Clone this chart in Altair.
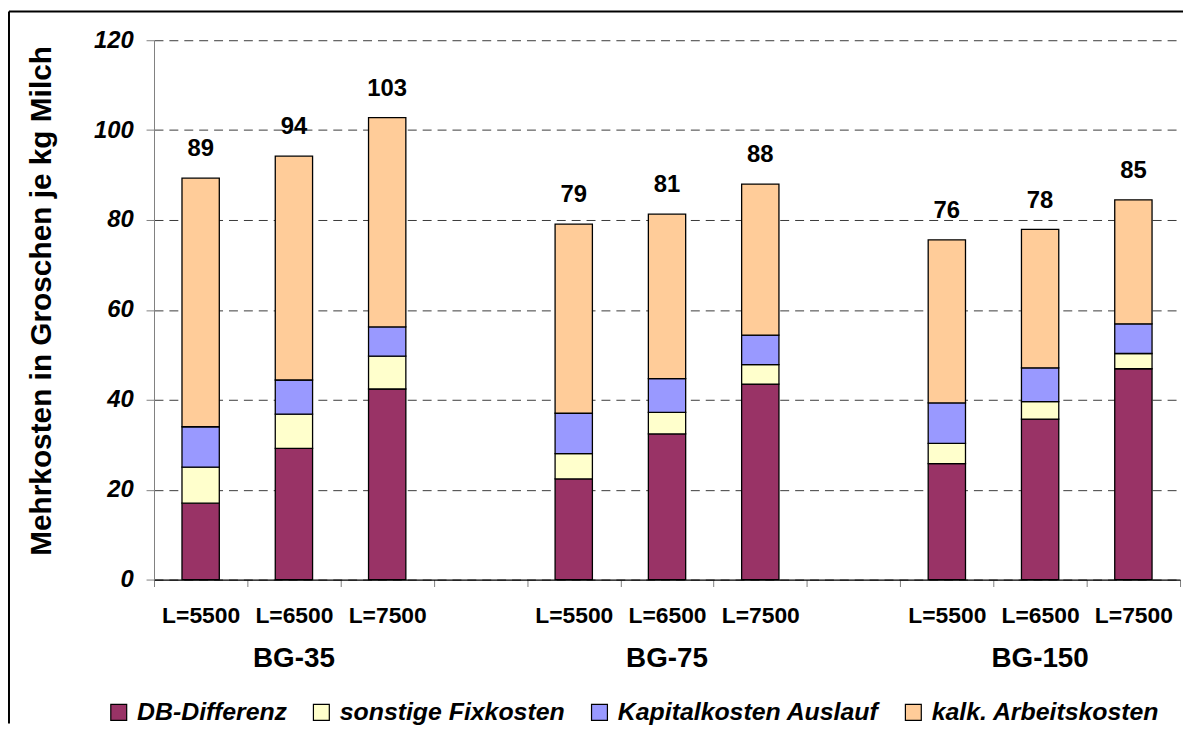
import altair as alt
import pandas as pd

groups = ["BG-35", "BG-75", "BG-150"]
levels = ["L=5500", "L=6500", "L=7500"]
series = ["DB-Differenz", "sonstige Fixkosten", "Kapitalkosten Auslauf", "kalk. Arbeitskosten"]
colors = ["#993366", "#FFFFCC", "#9999FF", "#FFCC99"]

# values per bar (BG-35 L5500..L7500, BG-75 ..., BG-150 ...)
db_diff = [17.0, 29.2, 42.4, 22.4, 32.4, 43.5, 25.8, 35.7, 46.9]
sonst_fix = [8.0, 7.6, 7.3, 5.6, 4.8, 4.3, 4.5, 3.9, 3.4]
kap_auslauf = [9.0, 7.6, 6.5, 9.0, 7.5, 6.6, 9.0, 7.5, 6.6]
arbeit = [55.3, 49.8, 46.6, 42.1, 36.6, 33.6, 36.3, 30.8, 27.6]
total_labels = ["89", "94", "103", "79", "81", "88", "76", "78", "85"]

font = "Liberation Sans"

slots = []
bar_slots = []
for gi, g in enumerate(groups):
    for lv in levels:
        s = f"{g}|{lv}"
        slots.append(s)
        bar_slots.append(s)
    if gi < len(groups) - 1:
        slots.append(f"gap{gi}")

rows = []
for i, s in enumerate(bar_slots):
    for k, (name, vals) in enumerate(zip(series, [db_diff, sonst_fix, kap_auslauf, arbeit])):
        rows.append({"slot": s, "series": name, "value": vals[i], "idx": k})
df = pd.DataFrame(rows)

tot = pd.DataFrame({
    "slot": bar_slots,
    "total": [db_diff[i] + sonst_fix[i] + kap_auslauf[i] + arbeit[i] for i in range(len(bar_slots))],
    "label": total_labels,
})

grp = pd.DataFrame({"slot": [f"{g}|{levels[1]}" for g in groups], "group": groups})

W, H = 1033, 543
PAD_B = 145

xscale = alt.Scale(domain=slots, paddingInner=0, paddingOuter=0)
yscale = alt.Scale(domain=[0, 120], nice=False)

x_axis = alt.Axis(
    title=None,
    labelExpr="(isString(datum.value) && test(/[|]/, datum.value)) ? split(datum.value, '|')[1] : ''",
    labelAngle=0,
    labelFont=font, labelFontSize=23, labelFontWeight="bold", labelColor="black",
    labelPadding=18,
    tickBand="extent", tickSize=7, tickColor="#808080",
    domainColor="black", domainWidth=1.2,
    grid=False,
)
y_axis = alt.Axis(
    title="Mehrkosten in Groschen je kg Milch",
    titleFont=font, titleFontSize=30, titleFontWeight="bold", titleColor="black",
    titleX=-104, titleY=262, titleBaseline="alphabetic", titleAngle=-90, titleAlign="center",
    values=[0, 20, 40, 60, 80, 100, 120],
    labelFont=font, labelFontSize=24, labelFontWeight="bold", labelFontStyle="italic",
    labelColor="black", labelPadding=13,
    tickSize=8, tickColor="#808080", domainColor="#808080",
    grid=True, gridColor="#3a3a3a", gridDash=[9, 6], gridWidth=1,
)

bars = alt.Chart(df).mark_bar(
    stroke="black", strokeWidth=1.3, width=alt.RelativeBandSize(0.4)
).encode(
    x=alt.X("slot:N", scale=xscale, axis=x_axis, sort=slots),
    y=alt.Y("sum(value):Q", scale=yscale, axis=y_axis, stack="zero"),
    color=alt.Color(
        "series:N",
        scale=alt.Scale(domain=series, range=colors),
        legend=alt.Legend(
            title=None, orient="none", direction="horizontal",
            legendX=-48, legendY=664, padding=0,
            symbolType="square", symbolSize=256,
            symbolStrokeColor="black", symbolStrokeWidth=1.2,
            labelFont=font, labelFontSize=25, labelFontWeight="bold",
            labelFontStyle="italic", labelColor="black",
            labelOffset=6, columnPadding=22, labelLimit=400,
        ),
    ),
    order=alt.Order("idx:Q", sort="ascending"),
)

labels = alt.Chart(tot).mark_text(
    font=font, fontSize=24, fontWeight="bold", color="black",
    baseline="alphabetic", dy=-22,
).encode(
    x=alt.X("slot:N", scale=xscale, sort=slots),
    y=alt.Y("total:Q", scale=yscale),
    text="label:N",
)

group_labels = alt.Chart(grp).mark_text(
    font=font, fontSize=28, fontWeight="bold", color="black", baseline="alphabetic",
).encode(
    x=alt.X("slot:N", scale=xscale, sort=slots),
    y=alt.value(631),
    text="group:N",
)

frame = alt.Data(values=[{"a": 1}])
border_top = alt.Chart(frame).mark_rule(stroke="black", strokeWidth=2).encode(
    x=alt.value(-146), x2=alt.value(W + 3), y=alt.value(-29)
)
border_left = alt.Chart(frame).mark_rule(stroke="black", strokeWidth=2).encode(
    x=alt.value(-146), y=alt.value(-29), y2=alt.value(H + PAD_B)
)

chart = alt.layer(bars, labels, group_labels, border_top, border_left).properties(
    width=W, height=H,
    autosize=alt.AutoSizeParams(type="none"),
    padding={"left": 147, "top": 30, "right": 4, "bottom": PAD_B},
    background="white",
).configure_view(stroke=None)

chart.save("out.html", embed_options={"renderer": "svg", "actions": False})
